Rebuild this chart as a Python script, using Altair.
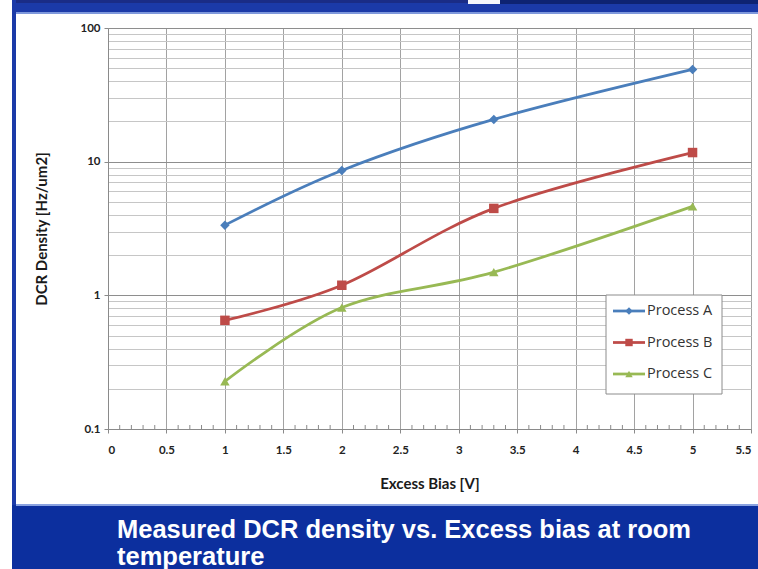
import altair as alt
import pandas as pd

# Excess bias (V) at which each process was measured
bias = [1, 2, 3.3, 5]

# Dark count rate density (Hz/um^2) per process
process_a = [3.35, 8.6, 20.7, 49.0]
process_b = [0.65, 1.19, 4.47, 11.7]
process_c = [0.227, 0.81, 1.49, 4.63]

names = ["Process A", "Process B", "Process C"]
colors = ["#4A7EBB", "#BE4B48", "#98B954"]
shapes = ["diamond", "square", "triangle-up"]

x_ticks = [0, 0.5, 1, 1.5, 2, 2.5, 3, 3.5, 4, 4.5, 5, 5.5]
x_minor = [v / 10 for v in range(1, 55) if v % 5]
y_grid = [0.1, 0.2, 0.3, 0.4, 0.5, 0.6, 0.7, 0.8, 0.9,
          1, 2, 3, 4, 5, 6, 7, 8, 9,
          10, 20, 30, 40, 50, 60, 70, 80, 90, 100]

caption = ["Measured DCR density vs. Excess bias at room", "temperature"]

rows = []
for name, series in zip(names, [process_a, process_b, process_c]):
    for b, v in zip(bias, series):
        rows.append({"series": name, "bias": b, "dcr": v})
df = pd.DataFrame(rows)

W, H = 643, 401
LEFT, TOP = 108, 28

color_scale = alt.Scale(domain=names, range=colors)
shape_scale = alt.Scale(domain=names, range=shapes)
x_scale = alt.Scale(domain=[0, 5.5], nice=False, zero=False)
y_scale = alt.Scale(type="log", domain=[0.1, 100], nice=False)

major_test = "indexof([0.1,1,10,100], datum.value) >= 0"

x_enc = alt.X(
    "bias:Q", scale=x_scale,
    axis=alt.Axis(
        values=x_ticks, format=".1~f", title="Excess Bias [V]",
        grid=True, gridColor="#a2a2a2", gridWidth=1,
        domainColor="#8a8a8a", tickColor="#8a8a8a", tickSize=4,
        labelFont="Lato", labelFontWeight="bold", labelFontSize=11.5,
        labelColor="#222222", labelPadding=11,
        titleFont="Lato", titleFontWeight="bold", titleFontSize=15,
        titleColor="#1a1a1a", titlePadding=21,
    ),
)
y_enc = alt.Y(
    "dcr:Q", scale=y_scale,
    axis=alt.Axis(
        values=y_grid, format="~g",
        labelExpr=major_test + " ? datum.label : ''",
        title="DCR Density [Hz/um2]",
        grid=True, gridWidth=1,
        gridColor={"condition": {"test": major_test, "value": "#8e8e8e"}, "value": "#c6c6c6"},
        tickColor={"condition": {"test": major_test, "value": "#8a8a8a"}, "value": "transparent"},
        tickSize=4, domainColor="#8a8a8a",
        labelFont="Lato", labelFontWeight="bold", labelFontSize=11.5,
        labelColor="#222222", labelPadding=4,
        titleFont="Lato", titleFontWeight="bold", titleFontSize=15,
        titleColor="#1a1a1a", titlePadding=30,
    ),
)

lines = alt.Chart(df).mark_line(interpolate="cardinal", strokeWidth=2.75).encode(
    x=x_enc, y=y_enc,
    color=alt.Color("series:N", scale=color_scale, legend=None),
    detail="series:N",
)
points = alt.Chart(df).mark_point(filled=True, opacity=1, size=90).encode(
    x="bias:Q", y="dcr:Q",
    color=alt.Color("series:N", scale=color_scale, legend=None),
    shape=alt.Shape("series:N", scale=shape_scale, legend=None),
)
minor_ticks = alt.Chart(pd.DataFrame({"bias": x_minor})).mark_rule(
    color="#8a8a8a", strokeWidth=1
).encode(x="bias:Q", y=alt.value(H - 4), y2=alt.value(H))

main = alt.layer(minor_ticks, lines, points)

# Slide frame: blue bands around the white panel
one = alt.Data(values=[{}])


def band(x0, x1, y0, y1, fill):
    return alt.Chart(one).mark_rect(color=fill, clip=False).encode(
        x=alt.value(x0 - LEFT), x2=alt.value(x1 - LEFT),
        y=alt.value(y0 - TOP), y2=alt.value(y1 - TOP),
    )


frame = [
    band(12, 758, 0, 13, "#1b3aa8"),
    band(12, 468, 0, 3, "#1a2c86"),
    band(468, 500, 0, 4, "#f4f6fb"),
    band(500, 758, 0, 4, "#0e2372"),
    band(12, 758, 12, 14, "#7e98dc"),
    band(12, 16, 0, 506, "#1b3aa8"),
    band(12, 758, 505, 569, "#0c2f9e"),
    band(16, 758, 504, 506, "#8aa2e0"),
]

caption_df = pd.DataFrame({"line": caption})
caption_text = alt.Chart(caption_df).mark_text(
    align="left", baseline="middle", font="Liberation Sans", fontWeight="bold",
    fontSize=25.5, color="white", clip=False,
).encode(
    x=alt.value(117 - LEFT),
    y=alt.Y("line:N", sort=caption,
            scale=alt.Scale(type="point", domain=caption,
                            range=[530 - TOP, 557 - TOP], padding=0),
            axis=None),
    text="line:N",
)

# Legend box with line-and-marker samples
leg_df = pd.DataFrame({"series": names})
leg_y = alt.Y("series:N",
              scale=alt.Scale(type="point", domain=names,
                              range=[311 - TOP, 374 - TOP], padding=0),
              axis=None)
leg_box = alt.Chart(one).mark_rect(fill="white", stroke="#8c8c8c", strokeWidth=1).encode(
    x=alt.value(606 - LEFT), x2=alt.value(722 - LEFT),
    y=alt.value(295 - TOP), y2=alt.value(394 - TOP),
)
leg_line = alt.Chart(leg_df).mark_rule(strokeWidth=2.75).encode(
    x=alt.value(613 - LEFT), x2=alt.value(645 - LEFT), y=leg_y,
    color=alt.Color("series:N", scale=color_scale, legend=None),
)
leg_mark = alt.Chart(leg_df).mark_point(filled=True, opacity=1, size=55).encode(
    x=alt.value(629 - LEFT), y=leg_y,
    color=alt.Color("series:N", scale=color_scale, legend=None),
    shape=alt.Shape("series:N", scale=shape_scale, legend=None),
)
leg_text = alt.Chart(leg_df).mark_text(
    align="left", baseline="middle", font="Open Sans", fontSize=14.5, color="#333333"
).encode(x=alt.value(647 - LEFT), y=leg_y, text="series:N")

chart = alt.layer(
    *frame, caption_text, main, leg_box, leg_line, leg_mark, leg_text
).resolve_scale(y="independent").properties(
    width=W, height=H,
    autosize=alt.AutoSizeParams(type="none"),
    padding={"left": LEFT, "top": TOP, "right": 758 - LEFT - W, "bottom": 569 - TOP - H},
    background="white",
).configure_view(stroke=None)

chart.save("out.html", embed_options={"renderer": "svg", "actions": False})
